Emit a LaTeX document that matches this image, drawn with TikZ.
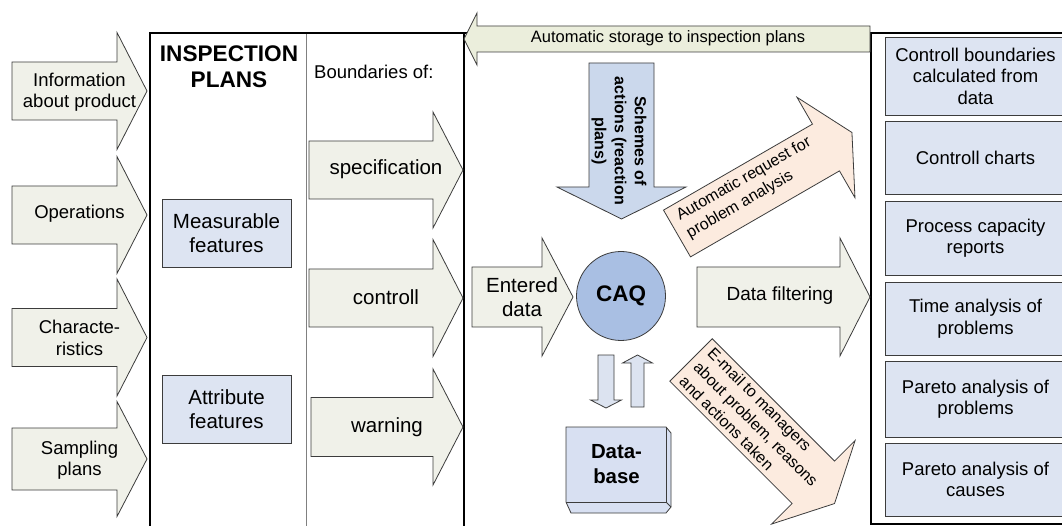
\documentclass[tikz,border=0pt]{standalone}
\usepackage{fontspec}
\setmainfont{Liberation Sans}
\definecolor{arrfill}{HTML}{F0F1E9}
\definecolor{storefill}{HTML}{EBEEDC}
\definecolor{boxfill}{HTML}{DDE4F2}
\definecolor{schemefill}{HTML}{CBD8EC}
\definecolor{caqfill}{HTML}{A9BFE3}
\definecolor{peach}{HTML}{FCEBDF}
\definecolor{dbfill}{HTML}{D8E0F2}
\definecolor{smallfill}{HTML}{DCE3F0}
\definecolor{edge}{HTML}{3C3C3C}
% #1 style, #2 tail centre, #3 angle, #4 length, #5 body half width, #6 head half width, #7 head length
\newcommand{\blockarr}[7]{%
  \begin{scope}[shift={#2},rotate=#3]
    \draw[#1] (0,-#5) -- ({#4-#7},-#5) -- ({#4-#7},-#6) -- (#4,0) -- ({#4-#7},#6) -- ({#4-#7},#5) -- (0,#5) -- cycle;
  \end{scope}}
\tikzset{
  arr/.style={draw=edge, line width=0.8pt, fill=arrfill, line join=miter},
  txt/.style={inner sep=0pt, align=center, font=\fontsize{18.5}{21.5}\selectfont},
  bigtxt/.style={inner sep=0pt, align=center, font=\fontsize{20.5}{23.5}\selectfont},
  slant/.style={inner sep=0pt, align=left, font=\fontsize{16}{20}\selectfont},
  fbox/.style={draw=edge, line width=0.8pt, fill=boxfill, inner sep=0pt, align=center},
  frame/.style={draw=black, line width=2pt},
}
\begin{document}
\begin{tikzpicture}[x=1pt,y=-1pt]
\useasboundingbox (0,0) rectangle (1062,526);
\clip (0,0) rectangle (1062,526);
\fill[white] (0,0) rectangle (1062,526);

% frames
\draw[frame] (150,532) -- (150,33) -- (1075,33);
\draw[frame] (464,33) -- (464,532);
\draw[frame] (871,33) -- (871,524) -- (1075,524);
\draw[draw=gray, line width=0.8pt] (306,34) -- (306,532);

% left input arrows
\blockarr{arr}{(12,91)}{0}{135}{29}{58.5}{30}
\node[txt] (info) at (79.5,92) {Information\\about product};
\blockarr{arr}{(12,215)}{0}{135}{29}{58.5}{30}
\node[txt] (oper) at (79.5,214) {Operations};
\blockarr{arr}{(12,337.5)}{0}{135}{29}{58.5}{30}
\node[txt] (chars) at (79.5,338) {Characte-\\ristics};
\blockarr{arr}{(12,459)}{0}{135}{31}{57.5}{30}
\node[txt] (sampl) at (79.5,460) {Sampling\\plans};

% inspection plans column
\node[inner sep=0pt, align=center, font=\bfseries\fontsize{22.6}{26}\selectfont] (insp) at (229,67) {INSPECTION\\PLANS};
\node[fbox, bigtxt, minimum width=129pt, minimum height=68pt] (meas) at (226.5,233) {Measurable\\features};
\node[fbox, bigtxt, minimum width=129pt, minimum height=68pt] (attr) at (226.5,409) {Attribute\\features};

% boundaries column
\node[txt, anchor=west] (bound) at (314,72) {Boundaries of:};
\blockarr{arr}{(309,170)}{0}{154}{29}{58}{30}
\node[bigtxt] (spec) at (386,169) {specification};
\blockarr{arr}{(309,298)}{0}{154}{29}{58.5}{30}
\node[bigtxt] (ctrl) at (386,297) {controll};
\blockarr{arr}{(311,427)}{0}{152}{29.5}{58}{30}
\node[bigtxt] (warn) at (387,427) {warning};

% storage arrow
\blockarr{draw=edge, line width=0.8pt, fill=storefill}{(870,39)}{180}{406}{13}{26}{13}
\node[inner sep=0pt, font=\fontsize{16.5}{19}\selectfont] (store) at (668,38.5) {Automatic storage to inspection plans};

% schemes arrow
\blockarr{draw=edge, line width=0.8pt, fill=schemefill}{(621.5,63)}{-90}{156}{32.5}{64.5}{32}
\node[inner sep=0pt, align=center, rotate=-90, font=\bfseries\fontsize{16}{20}\selectfont] (schemes) at (619,141) {Schemes of\\actions (reaction\\plans)};

% CAQ
\node[circle, draw=edge, line width=0.8pt, fill=caqfill, minimum size=89pt, inner sep=0pt, font=\bfseries\fontsize{22.5}{26}\selectfont] (caq) at (621,296) {CAQ};

% entered data / data filtering
\blockarr{arr}{(472,297)}{0}{101}{30}{59}{31}
\node[bigtxt] (entered) at (522,297) {Entered\\data};
\blockarr{arr}{(697,297)}{0}{173}{30}{59}{30}
\node[inner sep=0pt, font=\fontsize{19}{22}\selectfont] (filter) at (780,296) {Data filtering};

% request / e-mail arrows
\blockarr{draw=edge, line width=0.8pt, fill=peach}{(677,233.5)}{30}{202}{27}{58}{30}
\node[slant, rotate=30] (req) at (749,188) {Automatic request for\\problem analysis};
\blockarr{draw=edge, line width=0.8pt, fill=peach}{(691,360)}{-45}{203}{30}{59}{30}
\node[slant, rotate=-45] (mail) at (756,424) {E-mail to managers\\about problem, reasons\\and actions taken};

% small arrows between CAQ and database
\blockarr{draw=edge, line width=0.8pt, fill=smallfill}{(606,355)}{-90}{53}{8}{15.5}{8}
\blockarr{draw=edge, line width=0.8pt, fill=smallfill}{(637.5,407)}{90}{52}{6.5}{15}{8}

% database
\draw[draw=edge, line width=0.8pt, fill=dbfill] (566,427) -- (666,427) -- (671,433) -- (671,507) -- (666,513) -- (571,513) -- (566,502) -- cycle;
\draw[draw=edge, line width=0.8pt] (566,502) -- (666,502) -- (666,427);
\draw[draw=edge, line width=0.8pt] (666,502) -- (671,507);
\node[inner sep=0pt, align=center, font=\bfseries\fontsize{20.4}{25}\selectfont] (db) at (616.5,464) {Data-\\base};

% result boxes
\node[fbox, txt, minimum width=181pt, minimum height=78pt] (r1) at (975.5,76) {Controll boundaries\\calculated from\\data};
\node[fbox, txt, minimum width=181pt, minimum height=73pt] (r2) at (975.5,157.5) {Controll charts};
\node[fbox, txt, minimum width=181pt, minimum height=74pt] (r3) at (975.5,238) {Process capacity\\reports};
\node[fbox, txt, minimum width=181pt, minimum height=73pt] (r4) at (975.5,318.5) {Time analysis of\\problems};
\node[fbox, txt, minimum width=181pt, minimum height=76pt] (r5) at (975.5,399) {Pareto analysis of\\problems};
\node[fbox, txt, minimum width=181pt, minimum height=73pt] (r6) at (975.5,479.5) {Pareto analysis of\\causes};
\end{tikzpicture}
\end{document}
